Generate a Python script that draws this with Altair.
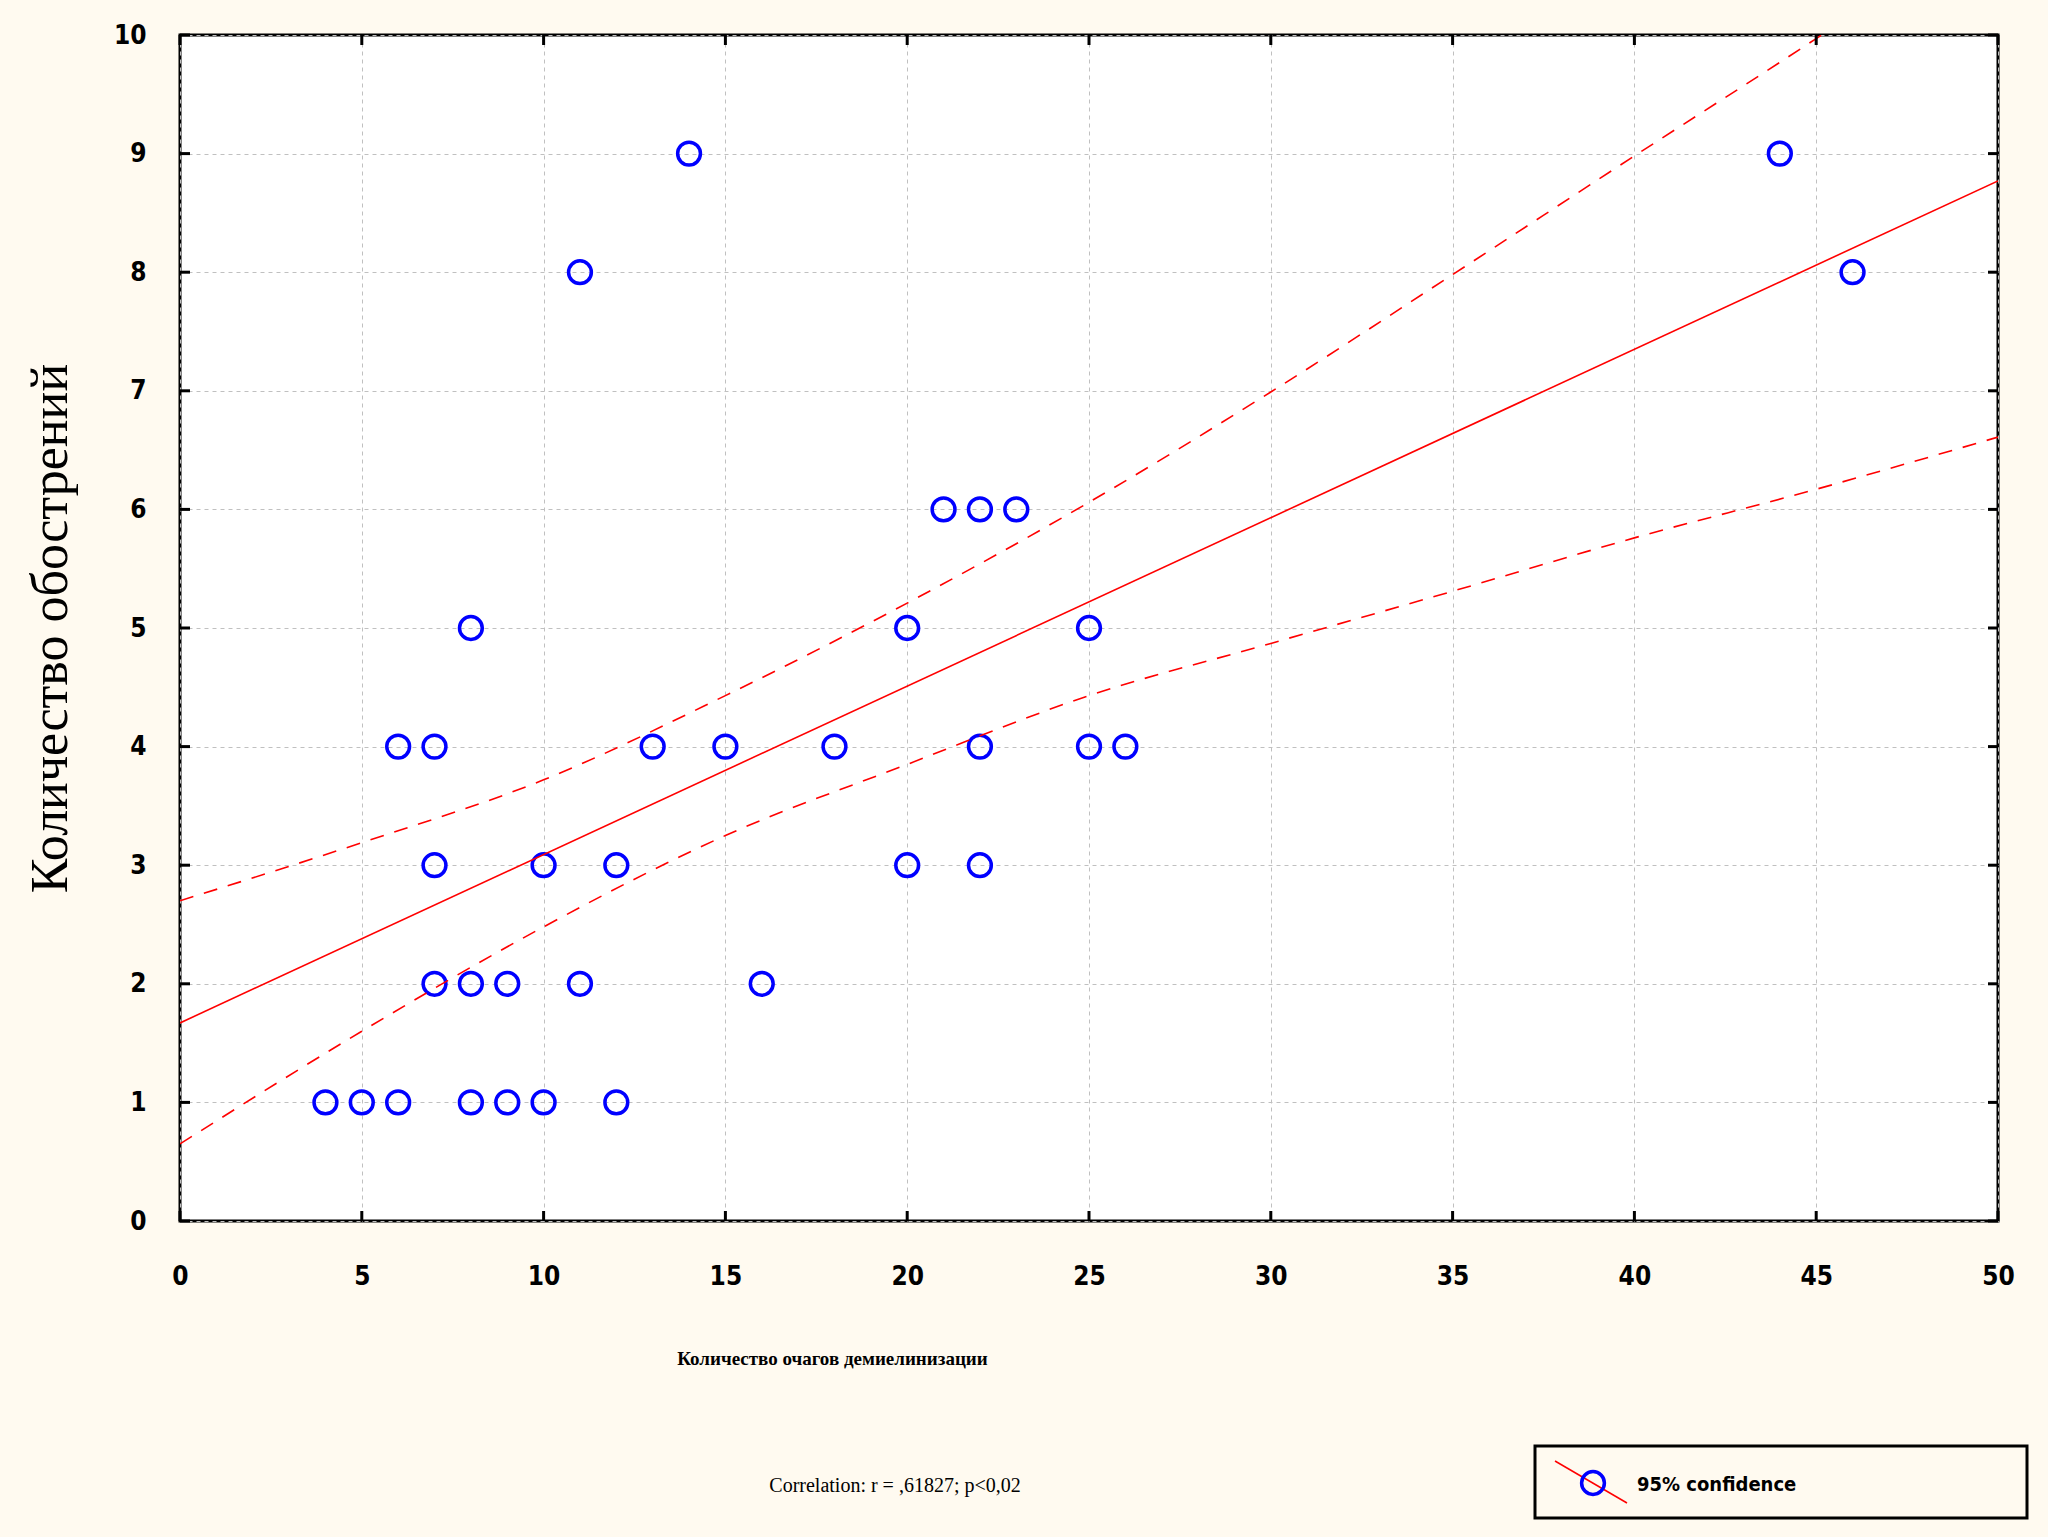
import altair as alt
import pandas as pd

# ---- data ----
x_vals = [4, 5, 6, 8, 9, 10, 12,
          7, 8, 9, 11, 16,
          7, 10, 12, 20, 22,
          6, 7, 13, 15, 18, 22, 25, 26,
          8, 20, 25,
          21, 22, 23,
          11, 46,
          14, 44]
y_vals = [1, 1, 1, 1, 1, 1, 1,
          2, 2, 2, 2, 2,
          3, 3, 3, 3, 3,
          4, 4, 4, 4, 4, 4, 4, 4,
          5, 5, 5,
          6, 6, 6,
          8, 8,
          9, 9]

fit_x = [0, 50]
fit_y = [1.67, 8.77]

ci_x = [0, 5, 10, 15, 20, 25, 30, 35, 40, 45, 50]
ci_upper = [2.70, 3.19, 3.72, 4.43, 5.21, 6.06, 6.99, 7.98, 8.98, 9.97, 11.0]
ci_lower = [0.65, 1.60, 2.48, 3.25, 3.85, 4.43, 4.87, 5.31, 5.76, 6.17, 6.61]

x_ticks = [0, 5, 10, 15, 20, 25, 30, 35, 40, 45, 50]
y_ticks = [0, 1, 2, 3, 4, 5, 6, 7, 8, 9, 10]

x_title = "Количество очагов демиелинизации"
y_title = "Количество обострений"
caption = "Correlation: r = ,61827; p<0,02"
legend_label = "95% confidence"

# ---- layout ----
W, H = 1818, 1186
PAD_L, PAD_T, PAD_R, PAD_B = 180, 35, 50, 316
BG = "#FFFAF0"
NARROW = "Liberation Sans Narrow, DejaVu Sans Condensed, sans-serif"
SERIF = "Liberation Serif"

xs = alt.Scale(domain=[0, 50], nice=False, zero=False)
ys = alt.Scale(domain=[0, 10], nice=False, zero=False)

pts_df = pd.DataFrame({"x": x_vals, "y": y_vals})
fit_df = pd.DataFrame({"x": fit_x, "y": fit_y})
ci_df = pd.concat([
    pd.DataFrame({"x": ci_x, "y": ci_upper, "band": "upper"}),
    pd.DataFrame({"x": ci_x, "y": ci_lower, "band": "lower"}),
])
xt_df = pd.DataFrame({"x": x_ticks})
yt_df = pd.DataFrame({"y": y_ticks})
one = pd.DataFrame({"a": [0]})

x_axis = alt.Axis(
    values=x_ticks, grid=True, gridColor="#c0c0c0", gridDash=[4, 4], gridWidth=1,
    ticks=False, domain=False, labelFont=NARROW, labelFontSize=26,
    labelFontWeight="bold", labelColor="black", labelPadding=42, labelFlush=False,
    labelOverlap=False,
    title=x_title, titleFont=SERIF, titleFontSize=19, titleFontWeight="bold",
    titleColor="black", titleX=652, titleY=137, titleAnchor="middle",
    titleAlign="center", titleBaseline="middle",
)
y_axis = alt.Axis(
    values=y_ticks, grid=True, gridColor="#c0c0c0", gridDash=[4, 4], gridWidth=1,
    ticks=False, domain=False, labelFont=NARROW, labelFontSize=26,
    labelFontWeight="bold", labelColor="black", labelPadding=34, labelFlush=False,
    labelOverlap=False,
    title=y_title, titleFont=SERIF, titleFontSize=52, titleFontWeight="normal",
    titleColor="black", titleX=-130, titleY=H / 2, titleAngle=270,
    titleAlign="center", titleBaseline="middle",
)

X = alt.X("x:Q", scale=xs, axis=x_axis)
Y = alt.Y("y:Q", scale=ys, axis=y_axis)

points = alt.Chart(pts_df).mark_point(
    shape="circle", filled=False, color="#0000ff", strokeWidth=3.5, size=520, opacity=1
).encode(x=X, y=Y)

fit = alt.Chart(fit_df).mark_line(color="#ff0000", strokeWidth=1.6, clip=True).encode(x=X, y=Y)

ci = alt.Chart(ci_df).mark_line(
    color="#ff0000", strokeWidth=1.6, strokeDash=[14, 11], clip=True, interpolate="monotone"
).encode(x=X, y=Y, detail="band:N")

TL = 10
tick_style = dict(color="black", strokeWidth=3)
xt_bottom = alt.Chart(xt_df).mark_rule(**tick_style).encode(
    x=X, y=alt.value(H), y2=alt.value(H - TL))
xt_top = alt.Chart(xt_df).mark_rule(**tick_style).encode(
    x=X, y=alt.value(0), y2=alt.value(TL))
yt_left = alt.Chart(yt_df).mark_rule(**tick_style).encode(
    y=Y, x=alt.value(0), x2=alt.value(TL))
yt_right = alt.Chart(yt_df).mark_rule(**tick_style).encode(
    y=Y, x=alt.value(W), x2=alt.value(W - TL))

cap = alt.Chart(one).mark_text(
    font=SERIF, fontSize=20, color="black", align="center", baseline="middle"
).encode(x=alt.value(895 - PAD_L), y=alt.value(1486 - PAD_T), text=alt.value(caption))

# legend box
leg_box = alt.Chart(one).mark_rect(
    fill=BG, stroke="black", strokeWidth=3
).encode(x=alt.value(1535 - PAD_L), x2=alt.value(2027 - PAD_L),
         y=alt.value(1446 - PAD_T), y2=alt.value(1518 - PAD_T))
leg_line = alt.Chart(one).mark_rule(color="#ff0000", strokeWidth=1.5).encode(
    x=alt.value(1555 - PAD_L), y=alt.value(1461 - PAD_T),
    x2=alt.value(1627 - PAD_L), y2=alt.value(1503 - PAD_T))
leg_pt = alt.Chart(one).mark_point(
    shape="circle", filled=False, color="#0000ff", strokeWidth=3.5, size=520, opacity=1
).encode(x=alt.value(1593 - PAD_L), y=alt.value(1483 - PAD_T))
leg_txt = alt.Chart(one).mark_text(
    font=NARROW, fontSize=20, fontWeight="bold", color="black",
    align="left", baseline="middle"
).encode(x=alt.value(1637 - PAD_L), y=alt.value(1485 - PAD_T), text=alt.value(legend_label))

chart = alt.layer(
    points, ci, fit, xt_bottom, xt_top, yt_left, yt_right,
    cap, leg_box, leg_line, leg_pt, leg_txt,
).properties(
    width=W, height=H,
    autosize=alt.AutoSizeParams(type="none"),
    padding={"left": PAD_L, "top": PAD_T, "right": PAD_R, "bottom": PAD_B},
    background=BG,
).configure_view(
    fill="white", stroke="black", strokeWidth=3
)

chart.save("out.html", embed_options={"renderer": "svg", "actions": False})
